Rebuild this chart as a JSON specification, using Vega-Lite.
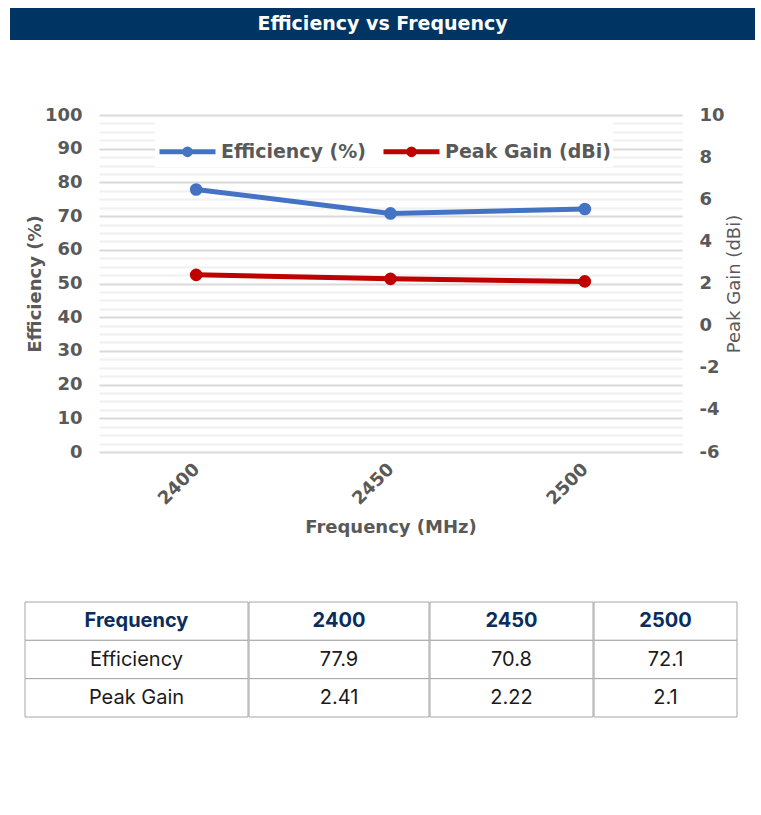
{
  "$schema": "https://vega.github.io/schema/vega-lite/v6.json",
  "background": "white",
  "padding": {"left": 10, "top": 8, "right": 6, "bottom": 0},
  "autosize": {"type": "pad"},
  "config": {"view": {"stroke": null}},
  "datasets": {
    "series": [
      {"freq": "2400", "eff": 77.9, "gain": 2.41},
      {"freq": "2450", "eff": 70.8, "gain": 2.22},
      {"freq": "2500", "eff": 72.1, "gain": 2.1}
    ],
    "table": [
      {"c": "label", "r": "Frequency", "v": "Frequency"},
      {"c": "label", "r": "Efficiency", "v": "Efficiency"},
      {"c": "label", "r": "Peak Gain", "v": "Peak Gain"},
      {"c": "2400", "r": "Frequency", "v": "2400"},
      {"c": "2400", "r": "Efficiency", "v": "77.9"},
      {"c": "2400", "r": "Peak Gain", "v": "2.41"},
      {"c": "2450", "r": "Frequency", "v": "2450"},
      {"c": "2450", "r": "Efficiency", "v": "70.8"},
      {"c": "2450", "r": "Peak Gain", "v": "2.22"},
      {"c": "2500", "r": "Frequency", "v": "2500"},
      {"c": "2500", "r": "Efficiency", "v": "72.1"},
      {"c": "2500", "r": "Peak Gain", "v": "2.1"}
    ],
    "heading": [{"t": "Efficiency vs Frequency"}],
    "none": []
  },
  "spacing": 64,
  "resolve": {"scale": {"color": "independent"}, "legend": {"color": "independent"}},
  "vconcat": [
    {
      "spacing": 66,
      "resolve": {"scale": {"color": "independent"}, "legend": {"color": "independent"}},
      "vconcat": [
        {
          "width": 745,
          "height": 32,
          "view": {"fill": "#003462", "stroke": null},
          "data": {"name": "heading"},
          "mark": {"type": "text", "font": "DejaVu Sans", "fontSize": 19, "fontWeight": "bold", "color": "white", "align": "center", "baseline": "middle"},
          "encoding": {"text": {"field": "t", "type": "nominal"}}
        },
        {
          "spacing": 0,
          "resolve": {"scale": {"color": "independent"}, "legend": {"color": "independent"}},
          "hconcat": [
            {
              "width": 16,
              "height": 1,
              "data": {"name": "none"},
              "mark": {"type": "point", "opacity": 0}
            },
            {
              "width": 583,
              "height": 337,
              "data": {"name": "series"},
              "encoding": {
                "x": {
                  "field": "freq", "type": "ordinal",
                  "scale": {"type": "point", "padding": 0.5},
                  "axis": {
                    "title": "Frequency (MHz)", "labelAngle": -45, "ticks": false, "domain": false, "grid": false,
                    "labelFont": "DejaVu Sans", "labelFontWeight": "bold", "labelFontSize": 18, "labelColor": "#595959", "labelPadding": 8, "labelOffset": -6,
                    "titleFont": "DejaVu Sans", "titleFontWeight": "bold", "titleFontSize": 18, "titleColor": "#595959", "titlePadding": 10
                  }
                },
                "color": {
                  "scale": {"domain": ["Efficiency (%)", "Peak Gain (dBi)"], "range": ["#4472C4", "#C00000"]},
                  "legend": {
                    "orient": "none", "legendX": 56, "legendY": 4, "direction": "horizontal", "title": null,
                    "symbolType": "M-1,0H1M0.1,0A0.1,0.1,0,1,1,-0.1,0A0.1,0.1,0,1,1,0.1,0Z",
                    "symbolSize": 3136, "symbolStrokeWidth": 5,
                    "labelFont": "DejaVu Sans", "labelFontWeight": "bold", "labelFontSize": 19, "labelColor": "#595959", "labelLimit": 400,
                    "labelOffset": 3, "columnPadding": 6, "fillColor": "white", "padding": 2,
                    "encode": {"symbols": {"update": {"fill": {"scale": "color", "field": "value"}, "stroke": {"scale": "color", "field": "value"}}}}
                  }
                }
              },
              "layer": [
                {
                  "mark": {"type": "line", "strokeWidth": 5, "point": {"filled": true, "size": 160}},
                  "encoding": {
                    "y": {
                      "field": "eff", "type": "quantitative",
                      "scale": {"domain": [0, 100], "nice": false},
                      "axis": {
                        "orient": "left", "title": "Efficiency (%)",
                        "values": [0, 2.5, 5, 7.5, 10, 12.5, 15, 17.5, 20, 22.5, 25, 27.5, 30, 32.5, 35, 37.5, 40, 42.5, 45, 47.5, 50, 52.5, 55, 57.5, 60, 62.5, 65, 67.5, 70, 72.5, 75, 77.5, 80, 82.5, 85, 87.5, 90, 92.5, 95, 97.5, 100],
                        "labelExpr": "datum.value % 10 === 0 ? datum.label : ''",
                        "labelOverlap": false, "ticks": false, "domain": false, "grid": true,
                        "gridColor": {"condition": {"test": "datum.value % 10 === 0", "value": "#d9d9d9"}, "value": "#f0f0f0"},
                        "gridWidth": 2,
                        "labelFont": "DejaVu Sans", "labelFontWeight": "bold", "labelFontSize": 18, "labelColor": "#595959", "labelPadding": 17,
                        "titleFont": "DejaVu Sans", "titleFontWeight": "bold", "titleFontSize": 18, "titleColor": "#595959", "titlePadding": 0
                      }
                    },
                    "color": {"datum": "Efficiency (%)"}
                  }
                },
                {
                  "mark": {"type": "line", "strokeWidth": 5, "point": {"filled": true, "size": 160}},
                  "encoding": {
                    "y": {
                      "field": "gain", "type": "quantitative",
                      "scale": {"domain": [-6, 10], "nice": false, "zero": false},
                      "axis": {
                        "orient": "right", "title": "Peak Gain (dBi)",
                        "values": [-6, -4, -2, 0, 2, 4, 6, 8, 10],
                        "labelExpr": "'' + datum.value",
                        "ticks": false, "domain": false, "grid": false,
                        "labelFont": "DejaVu Sans", "labelFontWeight": "bold", "labelFontSize": 18, "labelColor": "#595959", "labelPadding": 17,
                        "titleFont": "DejaVu Sans", "titleFontWeight": "normal", "titleFontSize": 18, "titleColor": "#595959", "titlePadding": 1,
                        "titleAngle": 270, "titleBaseline": "top"
                      }
                    },
                    "color": {"datum": "Peak Gain (dBi)"}
                  }
                }
              ],
              "resolve": {"scale": {"y": "independent"}}
            }
          ]
        }
      ]
    },
    {
      "spacing": -2,
      "hconcat": [
        {
          "width": 15,
          "height": 1,
          "data": {"name": "none"},
          "mark": {"type": "point", "opacity": 0}
        },
        {
          "width": 223, "height": 115,
          "data": {"name": "table"},
          "transform": [{"filter": "datum.c === 'label'"}],
          "encoding": {"y": {"field": "r", "type": "nominal", "axis": null, "scale": {"domain": ["Frequency", "Efficiency", "Peak Gain"], "paddingInner": 0, "paddingOuter": 0}}},
          "layer": [
            {"mark": {"type": "rect", "fill": "white", "stroke": "#a6a6a6", "strokeWidth": 1}},
            {"transform": [{"filter": "datum.r === 'Frequency'"}], "mark": {"type": "text", "font": "Inter", "fontSize": 20, "fontWeight": 700, "color": "#0b2d5b", "baseline": "middle"}, "encoding": {"text": {"field": "v", "type": "nominal"}}},
            {"transform": [{"filter": "datum.r !== 'Frequency'"}], "mark": {"type": "text", "font": "Inter", "fontSize": 20, "color": "#1a1a1a", "baseline": "middle"}, "encoding": {"text": {"field": "v", "type": "nominal"}}}
          ]
        },
        {
          "width": 180, "height": 115,
          "data": {"name": "table"},
          "transform": [{"filter": "datum.c === '2400'"}],
          "encoding": {"y": {"field": "r", "type": "nominal", "axis": null, "scale": {"domain": ["Frequency", "Efficiency", "Peak Gain"], "paddingInner": 0, "paddingOuter": 0}}},
          "layer": [
            {"mark": {"type": "rect", "fill": "white", "stroke": "#a6a6a6", "strokeWidth": 1}},
            {"transform": [{"filter": "datum.r === 'Frequency'"}], "mark": {"type": "text", "font": "Inter", "fontSize": 20, "fontWeight": 700, "color": "#0b2d5b", "baseline": "middle"}, "encoding": {"text": {"field": "v", "type": "nominal"}}},
            {"transform": [{"filter": "datum.r !== 'Frequency'"}], "mark": {"type": "text", "font": "Inter", "fontSize": 20, "color": "#1a1a1a", "baseline": "middle"}, "encoding": {"text": {"field": "v", "type": "nominal"}}}
          ]
        },
        {
          "width": 163, "height": 115,
          "data": {"name": "table"},
          "transform": [{"filter": "datum.c === '2450'"}],
          "encoding": {"y": {"field": "r", "type": "nominal", "axis": null, "scale": {"domain": ["Frequency", "Efficiency", "Peak Gain"], "paddingInner": 0, "paddingOuter": 0}}},
          "layer": [
            {"mark": {"type": "rect", "fill": "white", "stroke": "#a6a6a6", "strokeWidth": 1}},
            {"transform": [{"filter": "datum.r === 'Frequency'"}], "mark": {"type": "text", "font": "Inter", "fontSize": 20, "fontWeight": 700, "color": "#0b2d5b", "baseline": "middle"}, "encoding": {"text": {"field": "v", "type": "nominal"}}},
            {"transform": [{"filter": "datum.r !== 'Frequency'"}], "mark": {"type": "text", "font": "Inter", "fontSize": 20, "color": "#1a1a1a", "baseline": "middle"}, "encoding": {"text": {"field": "v", "type": "nominal"}}}
          ]
        },
        {
          "width": 143, "height": 115,
          "data": {"name": "table"},
          "transform": [{"filter": "datum.c === '2500'"}],
          "encoding": {"y": {"field": "r", "type": "nominal", "axis": null, "scale": {"domain": ["Frequency", "Efficiency", "Peak Gain"], "paddingInner": 0, "paddingOuter": 0}}},
          "layer": [
            {"mark": {"type": "rect", "fill": "white", "stroke": "#a6a6a6", "strokeWidth": 1}},
            {"transform": [{"filter": "datum.r === 'Frequency'"}], "mark": {"type": "text", "font": "Inter", "fontSize": 20, "fontWeight": 700, "color": "#0b2d5b", "baseline": "middle"}, "encoding": {"text": {"field": "v", "type": "nominal"}}},
            {"transform": [{"filter": "datum.r !== 'Frequency'"}], "mark": {"type": "text", "font": "Inter", "fontSize": 20, "color": "#1a1a1a", "baseline": "middle"}, "encoding": {"text": {"field": "v", "type": "nominal"}}}
          ]
        }
      ]
    }
  ]
}
